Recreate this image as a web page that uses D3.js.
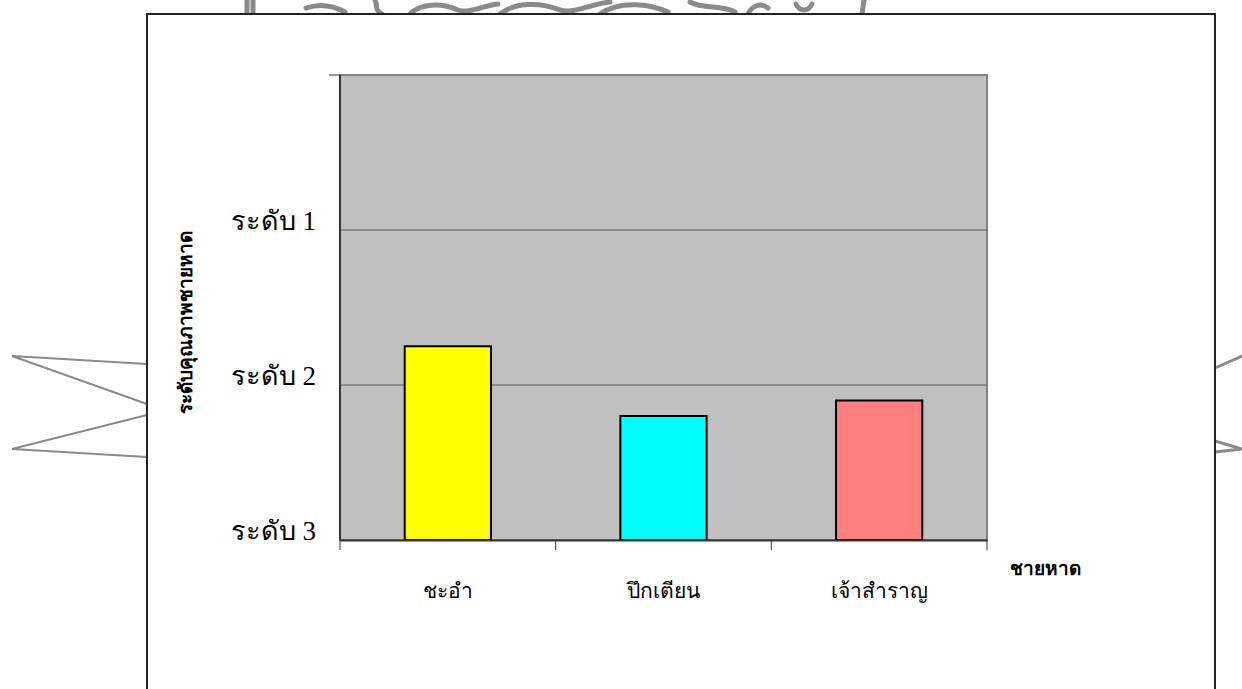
<!DOCTYPE html>
<html>
<head>
<meta charset="utf-8">
<script src="https://cdn.jsdelivr.net/npm/d3@7"></script>
<style>
  body { margin: 0; background: #fff; }
  svg { display: block; }
  .tick-label { font-family: "Liberation Serif", "Times New Roman", serif; fill: #000; }
  .axis-title { font-family: "Liberation Sans", Arial, sans-serif; font-weight: bold; fill: #000; }
</style>
</head>
<body>
<svg width="1242" height="689"></svg>
<script>
const beaches = ["ชะอำ", "ปึกเตียน", "เจ้าสำราญ"];
const levels = [1.75, 2.2, 2.1];
const barColors = ["#ffff00", "#00ffff", "#ff8080"];
const levelTicks = [1, 2, 3];
const levelLabels = ["ระดับ 1", "ระดับ 2", "ระดับ 3"];

const svg = d3.select("svg");
const width = +svg.attr("width");
const height = +svg.attr("height");

// faint watermark showing through the scanned page
const wm = svg.append("g")
  .attr("fill", "none")
  .attr("stroke", "#8a8a8a")
  .attr("stroke-linecap", "round");

wm.append("polyline")
  .attr("stroke-width", 2)
  .attr("points", "147,364 12,356 147,404");
wm.append("polyline")
  .attr("stroke-width", 2)
  .attr("points", "147,415 12,449 147,457");
wm.append("polyline")
  .attr("stroke-width", 3)
  .attr("points", "1215,368 1242,356");
wm.append("polyline")
  .attr("stroke-width", 3)
  .attr("points", "1215,441 1242,449 1215,452");

const topMarks = [
  "M247,0 L247,14",
  "M253,0 L253,14",
  "M306,8 C318,4 330,4 345,12",
  "M375,0 C378,6 374,10 382,14",
  "M410,14 C420,4 440,2 458,10 C470,14 480,6 498,4",
  "M500,14 C515,2 540,2 560,10 C575,14 590,4 610,2",
  "M600,14 C620,0 650,4 668,12",
  "M690,2 C705,10 720,4 735,12",
  "M748,14 C752,6 760,2 768,8",
  "M796,4 C800,12 808,12 812,4",
  "M864,0 L862,14"
];
wm.selectAll("path.top")
  .data(topMarks)
  .enter()
  .append("path")
  .attr("class", "top")
  .attr("stroke-width", 5)
  .attr("d", d => d);

// chart frame
svg.append("rect")
  .attr("x", 147)
  .attr("y", 14)
  .attr("width", 1068)
  .attr("height", 700)
  .attr("fill", "#fff")
  .attr("stroke", "#222")
  .attr("stroke-width", 2);

const plot = { left: 340, right: 987, top: 75, bottom: 540 };

const x = d3.scaleBand()
  .domain(beaches)
  .range([plot.left, plot.right])
  .padding(0);

const y = d3.scaleLinear()
  .domain([3, 0])
  .range([plot.bottom, plot.top]);

// plot area
svg.append("rect")
  .attr("x", plot.left)
  .attr("y", plot.top)
  .attr("width", plot.right - plot.left)
  .attr("height", plot.bottom - plot.top)
  .attr("fill", "#c0c0c0")
  .attr("stroke", "#808080")
  .attr("stroke-width", 2);

// gridlines
svg.selectAll(".grid")
  .data(levelTicks.filter(t => t < 3))
  .enter()
  .append("line")
  .attr("class", "grid")
  .attr("x1", plot.left)
  .attr("x2", plot.right)
  .attr("y1", d => y(d))
  .attr("y2", d => y(d))
  .attr("stroke", "#5a5a5a")
  .attr("stroke-width", 1);

// bars
svg.selectAll(".bar")
  .data(beaches)
  .enter()
  .append("rect")
  .attr("class", "bar")
  .attr("x", d => x(d) + x.bandwidth() * 0.3)
  .attr("width", x.bandwidth() * 0.4)
  .attr("y", (d, i) => y(levels[i]))
  .attr("height", (d, i) => y(3) - y(levels[i]))
  .attr("fill", (d, i) => barColors[i])
  .attr("stroke", "#000")
  .attr("stroke-width", 2);

// left axis
svg.append("line")
  .attr("x1", plot.left)
  .attr("x2", plot.left)
  .attr("y1", plot.top)
  .attr("y2", plot.bottom)
  .attr("stroke", "#333")
  .attr("stroke-width", 2);

svg.append("line")
  .attr("x1", plot.left - 11)
  .attr("x2", plot.left)
  .attr("y1", y(0))
  .attr("y2", y(0))
  .attr("stroke", "#333")
  .attr("stroke-width", 1);

svg.selectAll(".ylabel")
  .data(levelTicks)
  .enter()
  .append("text")
  .attr("class", "tick-label")
  .attr("x", plot.left - 24)
  .attr("y", d => y(d))
  .attr("text-anchor", "end")
  .style("font-size", "27px")
  .text((d, i) => levelLabels[i]);

// bottom axis
const xAxis = svg.append("g")
  .attr("transform", `translate(0,${plot.bottom})`)
  .call(d3.axisBottom(x).tickSize(0).tickFormat(""));
xAxis.select(".domain")
  .attr("stroke", "#333")
  .attr("stroke-width", 2);

const edges = beaches.map(d => x(d)).concat([plot.right]);
svg.selectAll(".xtick")
  .data(edges)
  .enter()
  .append("line")
  .attr("class", "xtick")
  .attr("x1", d => d)
  .attr("x2", d => d)
  .attr("y1", plot.bottom)
  .attr("y2", plot.bottom + 10)
  .attr("stroke", "#333")
  .attr("stroke-width", 1);

svg.selectAll(".xlabel")
  .data(beaches)
  .enter()
  .append("text")
  .attr("class", "tick-label")
  .attr("x", d => x(d) + x.bandwidth() / 2)
  .attr("y", 598)
  .attr("text-anchor", "middle")
  .style("font-size", "21px")
  .text(d => d);

// axis titles
svg.append("text")
  .attr("class", "axis-title")
  .attr("x", 1010)
  .attr("y", 575)
  .style("font-size", "19px")
  .text("ชายหาด");

svg.append("text")
  .attr("class", "axis-title")
  .attr("transform", "translate(192,322) rotate(-90)")
  .attr("text-anchor", "middle")
  .style("font-size", "19px")
  .text("ระดับคุณภาพชายหาด");
</script>
</body>
</html>
